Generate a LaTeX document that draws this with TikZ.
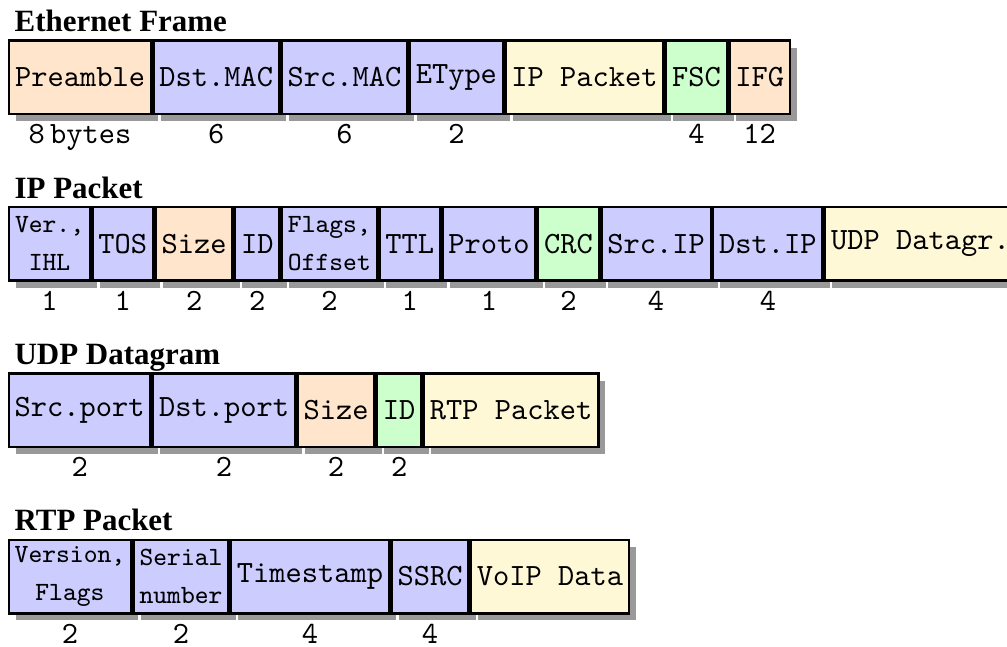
\documentclass[tikz,border=0pt]{standalone}
\usepackage{fontspec}
\newfontfamily\titlefont{Liberation Serif}
\usetikzlibrary{shadows,calc}
\definecolor{cblue}{HTML}{CCCCFF}
\definecolor{cpeach}{HTML}{FFE5CC}
\definecolor{cyel}{HTML}{FFF8D6}
\definecolor{cgreen}{HTML}{CCFFCC}
\definecolor{cshadow}{HTML}{999999}
\begin{document}
\begin{tikzpicture}[x=0.3231pt,y=-0.3231pt,
  fld/.style={draw=black, line width=0.8pt, minimum height=23.75pt,
    inner xsep=1.93pt, inner ysep=0.5pt, font=\ttfamily,
    drop shadow={shadow xshift=2.3pt, shadow yshift=-2.3pt, fill=cshadow, draw=none, opacity=1}},
  first/.style={anchor=north west},
  next/.style={anchor=west},
  two/.style={align=center, font=\ttfamily\fontsize{8.5}{12.2}\selectfont},
  fB/.style={fld, fill=cblue},
  fP/.style={fld, fill=cpeach},
  fY/.style={fld, fill=cyel},
  fG/.style={fld, fill=cgreen},
  lbl/.style={font=\ttfamily, anchor=base, inner sep=0pt},
  ttl/.style={font=\titlefont\bfseries, anchor=base west, inner sep=0pt}]
\useasboundingbox (0,0) rectangle (1007,646);

% ---------- Ethernet Frame ----------
\node[ttl] (t1) at (14,31.5) {Ethernet Frame};
\node[fP, first] (e1) at (7.8,39.3) {Preamble};
\node[fB, next] (e2) at (e1.east) {Dst.MAC};
\node[fB, next] (e3) at (e2.east) {Src.MAC};
\node[fB, next] (e4) at (e3.east) {EType};
\node[fY, next] (e5) at (e4.east) {IP Packet};
\node[fG, next] (e6) at (e5.east) {FSC};
\node[fP, next] (e7) at (e6.east) {IFG};
\node[lbl] (le1) at ($(e1.south)+(0,28.5)$) {8\,bytes};
\node[lbl] (le2) at ($(e2.south)+(0,28.5)$) {6};
\node[lbl] (le3) at ($(e3.south)+(0,28.5)$) {6};
\node[lbl] (le4) at ($(e4.south)+(0,28.5)$) {2};
\node[lbl] (le6) at ($(e6.south)+(0,28.5)$) {4};
\node[lbl] (le7) at ($(e7.south)+(0,28.5)$) {12};

% ---------- IP Packet ----------
\node[ttl] (t2) at (14,198) {IP Packet};
\node[fB, two, first] (i1) at (7.8,205.8) {Ver.,\\IHL};
\node[fB, next] (i2) at (i1.east) {TOS};
\node[fP, next] (i3) at (i2.east) {Size};
\node[fB, next] (i4) at (i3.east) {ID};
\node[fB, two, next] (i5) at (i4.east) {Flags,\\Offset};
\node[fB, next] (i6) at (i5.east) {TTL};
\node[fB, next] (i7) at (i6.east) {Proto};
\node[fG, next] (i8) at (i7.east) {CRC};
\node[fB, next] (i9) at (i8.east) {Src.IP};
\node[fB, next] (i10) at (i9.east) {Dst.IP};
\node[fY, next] (i11) at (i10.east) {UDP Datagr.};
\node[lbl] (li1) at ($(i1.south)+(0,28.5)$) {1};
\node[lbl] (li2) at ($(i2.south)+(0,28.5)$) {1};
\node[lbl] (li3) at ($(i3.south)+(0,28.5)$) {2};
\node[lbl] (li4) at ($(i4.south)+(0,28.5)$) {2};
\node[lbl] (li5) at ($(i5.south)+(0,28.5)$) {2};
\node[lbl] (li6) at ($(i6.south)+(0,28.5)$) {1};
\node[lbl] (li7) at ($(i7.south)+(0,28.5)$) {1};
\node[lbl] (li8) at ($(i8.south)+(0,28.5)$) {2};
\node[lbl] (li9) at ($(i9.south)+(0,28.5)$) {4};
\node[lbl] (li10) at ($(i10.south)+(0,28.5)$) {4};

% ---------- UDP Datagram ----------
\node[ttl] (t3) at (14,364.3) {UDP Datagram};
\node[fB, first] (u1) at (7.5,372.3) {Src.port};
\node[fB, next] (u2) at (u1.east) {Dst.port};
\node[fP, next] (u3) at (u2.east) {Size};
\node[fG, next] (u4) at (u3.east) {ID};
\node[fY, next] (u5) at (u4.east) {RTP Packet};
\node[lbl] (lu1) at ($(u1.south)+(0,28.5)$) {2};
\node[lbl] (lu2) at ($(u2.south)+(0,28.5)$) {2};
\node[lbl] (lu3) at ($(u3.south)+(0,28.5)$) {2};
\node[lbl] (lu4) at ($(u4.south)+(0,28.5)$) {2};

% ---------- RTP Packet ----------
\node[ttl] (t4) at (14,530.5) {RTP Packet};
\node[fB, two, first] (r1) at (7.5,538.5) {Version,\\Flags};
\node[fB, two, next] (r2) at (r1.east) {Serial\\number};
\node[fB, next] (r3) at (r2.east) {Timestamp};
\node[fB, next] (r4) at (r3.east) {SSRC};
\node[fY, next] (r5) at (r4.east) {VoIP Data};
\node[lbl] (lr1) at ($(r1.south)+(0,28.5)$) {2};
\node[lbl] (lr2) at ($(r2.south)+(0,28.5)$) {2};
\node[lbl] (lr3) at ($(r3.south)+(0,28.5)$) {4};
\node[lbl] (lr4) at ($(r4.south)+(0,28.5)$) {4};
\end{tikzpicture}
\end{document}
